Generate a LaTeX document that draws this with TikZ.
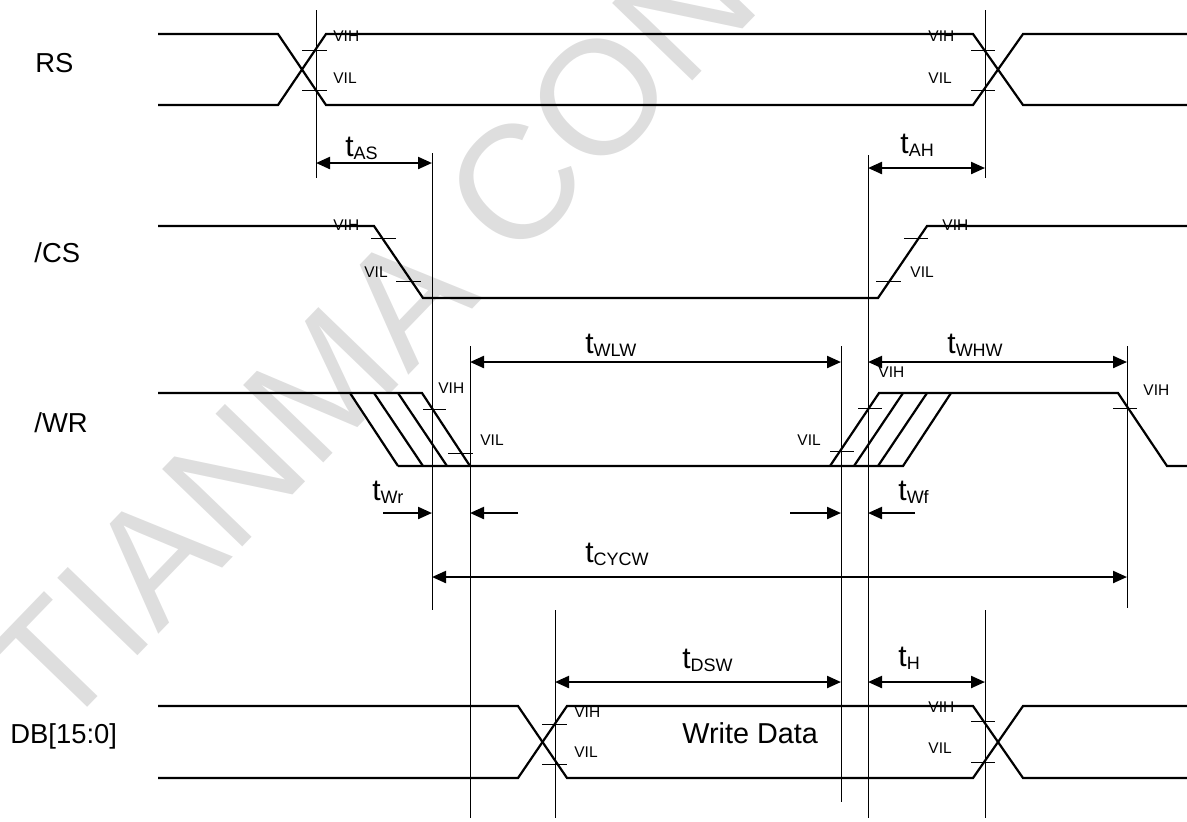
\documentclass[tikz,border=0pt]{standalone}
\usepackage{fontspec}
\setmainfont{Liberation Sans}
\usetikzlibrary{arrows.meta}
\newcommand\tlab[1]{t\raisebox{-1.5pt}{\fontsize{9}{9}\selectfont #1}}
\begin{document}
\begin{tikzpicture}[x=0.5pt,y=-0.5pt,
  sig/.style={line width=1.1pt, line join=miter},
  guide/.style={line width=0.5pt},
  tickm/.style={line width=0.5pt},
  dimarr/.style={line width=1.1pt, {Triangle[length=7pt,width=6pt]}-{Triangle[length=7pt,width=6pt]}},
  onearr/.style={line width=1.1pt, -{Triangle[length=7pt,width=6pt]}},
  lab/.style={anchor=base west, inner sep=0pt, font=\fontsize{13.7}{16}\selectfont},
  vlab/.style={anchor=base west, inner sep=0pt, font=\fontsize{7.75}{9}\selectfont},
  tl/.style={anchor=base west, inner sep=0pt, font=\fontsize{15}{18}\selectfont}]
\useasboundingbox (0,0) rectangle (1187,821);
% watermark
\begin{scope}
\clip (0,0) rectangle (1187,821);
\node[rotate=46, anchor=base west, inner sep=0pt, text=black!13,
  font=\fontsize{81}{90}\selectfont] (wm) at (58,738) {TIANMA CONFIDENTIAL};
\end{scope}
% signal names
\node[lab] (nRS) at (35,72) {RS};
\node[lab] (nCS) at (34,262) {/CS};
\node[lab] (nWR) at (34,432) {/WR};
\node[lab] (nDB) at (10,743) {DB[15:0]};
% ---------- RS ----------
\draw[sig] (158,34) -- (278,34) -- (326,105) -- (973,105) -- (1023,34) -- (1187,34);
\draw[sig] (158,105) -- (278,105) -- (326,34) -- (973,34) -- (1023,105) -- (1187,105);
\draw[tickm] (302,50) -- (327,50) (302,90) -- (327,90);
\draw[tickm] (971,50) -- (995,50) (971,90) -- (995,90);
\node[vlab] (rsvih1) at (333,41) {VIH};
\node[vlab] (rsvil1) at (333,83) {VIL};
\node[vlab] (rsvih2) at (928,41) {VIH};
\node[vlab] (rsvil2) at (928,83) {VIL};
% ---------- /CS ----------
\draw[sig] (158,226) -- (374,226) -- (423,298) -- (878,298) -- (927,226) -- (1187,226);
\draw[tickm] (371,238) -- (396,238) (396,281) -- (421,281);
\draw[tickm] (904,238) -- (928,238) (876,281) -- (901,281);
\node[vlab] (csvih1) at (333,230) {VIH};
\node[vlab] (csvil1) at (364,277) {VIL};
\node[vlab] (csvih2) at (942,230) {VIH};
\node[vlab] (csvil2) at (910,277) {VIL};
% ---------- /WR ----------
\draw[sig] (158,393) -- (422,393) -- (470,466);
\draw[sig] (350,393) -- (398,466);
\draw[sig] (374,393) -- (423,466);
\draw[sig] (398,393) -- (447,466);
\draw[sig] (398,466) -- (903,466) -- (951,393);
\draw[sig] (830,466) -- (879,393) -- (1118,393) -- (1167,466) -- (1187,466);
\draw[sig] (854,466) -- (903,393);
\draw[sig] (878,466) -- (927,393);
\draw[tickm] (423,409) -- (446,409) (448,453) -- (473,453);
\draw[tickm] (858,408) -- (882,408) (830,451) -- (854,451);
\draw[tickm] (1113,408) -- (1137,408);
\node[vlab] (wrvih1) at (438,393) {VIH};
\node[vlab] (wrvil1) at (480,445) {VIL};
\node[vlab] (wrvih2) at (878,377) {VIH};
\node[vlab] (wrvil2) at (797,445) {VIL};
\node[vlab] (wrvih3) at (1143,395) {VIH};
% ---------- DB ----------
\draw[sig] (158,706) -- (518,706) -- (567,778) -- (973,778) -- (1023,706) -- (1187,706);
\draw[sig] (158,778) -- (518,778) -- (567,706) -- (973,706) -- (1023,778) -- (1187,778);
\draw[tickm] (542,724) -- (567,724) (542,764) -- (567,764);
\draw[tickm] (971,721) -- (995,721) (971,762) -- (995,762);
\node[vlab] (dbvih1) at (574,717) {VIH};
\node[vlab] (dbvil1) at (574,757) {VIL};
\node[vlab] (dbvih2) at (928,712) {VIH};
\node[vlab] (dbvil2) at (928,753) {VIL};
\node[anchor=base west, inner sep=0pt, font=\fontsize{14.4}{17}\selectfont] (wd) at (682,743) {Write Data};
% ---------- guide lines ----------
\coordinate (g1t) at (316,10);   \coordinate (g1b) at (316,178);
\coordinate (g2t) at (985,10);   \coordinate (g2b) at (985,178);
\coordinate (g3t) at (432,153);  \coordinate (g3b) at (432,610);
\coordinate (g4t) at (868,155);  \coordinate (g4b) at (868,818);
\coordinate (g5t) at (470,346);  \coordinate (g5b) at (470,818);
\coordinate (g6t) at (841,346);  \coordinate (g6b) at (841,802);
\coordinate (g7t) at (1127,346); \coordinate (g7b) at (1127,608);
\coordinate (g8t) at (555,610);  \coordinate (g8b) at (555,818);
\coordinate (g9t) at (985,610);  \coordinate (g9b) at (985,818);
\foreach \g in {1,...,9} \draw[guide] (g\g t) -- (g\g b);
% ---------- dimension arrows ----------
\coordinate (asL) at (316,163); \coordinate (asR) at (432,163);
\draw[dimarr] (asL) -- (asR);
\node[tl] (tAS) at (345,156) {\tlab{AS}};
\coordinate (ahL) at (868,168); \coordinate (ahR) at (985,168);
\draw[dimarr] (ahL) -- (ahR);
\node[tl] (tAH) at (900,153) {\tlab{AH}};
\coordinate (wlwL) at (470,362); \coordinate (wlwR) at (841,362);
\draw[dimarr] (wlwL) -- (wlwR);
\node[tl] (tWLW) at (585,353) {\tlab{WLW}};
\coordinate (whwL) at (868,362); \coordinate (whwR) at (1127,362);
\draw[dimarr] (whwL) -- (whwR);
\node[tl] (tWHW) at (947,353) {\tlab{WHW}};
\coordinate (wr1s) at (383,513); \coordinate (wr1e) at (432,513);
\coordinate (wr2s) at (518,513); \coordinate (wr2e) at (470,513);
\draw[onearr] (wr1s) -- (wr1e);
\draw[onearr] (wr2s) -- (wr2e);
\node[tl] (tWr) at (372,500) {\tlab{Wr}};
\coordinate (wf1s) at (790,513); \coordinate (wf1e) at (841,513);
\coordinate (wf2s) at (915,513); \coordinate (wf2e) at (868,513);
\draw[onearr] (wf1s) -- (wf1e);
\draw[onearr] (wf2s) -- (wf2e);
\node[tl] (tWf) at (898,500) {\tlab{Wf}};
\coordinate (cyL) at (432,577); \coordinate (cyR) at (1127,577);
\draw[dimarr] (cyL) -- (cyR);
\node[tl] (tCYCW) at (585,562) {\tlab{CYCW}};
\coordinate (dsL) at (555,682); \coordinate (dsR) at (841,682);
\draw[dimarr] (dsL) -- (dsR);
\node[tl] (tDSW) at (682,668) {\tlab{DSW}};
\coordinate (hL) at (868,682); \coordinate (hR) at (985,682);
\draw[dimarr] (hL) -- (hR);
\node[tl] (tH) at (898,666) {\tlab{H}};
\end{tikzpicture}
\end{document}
